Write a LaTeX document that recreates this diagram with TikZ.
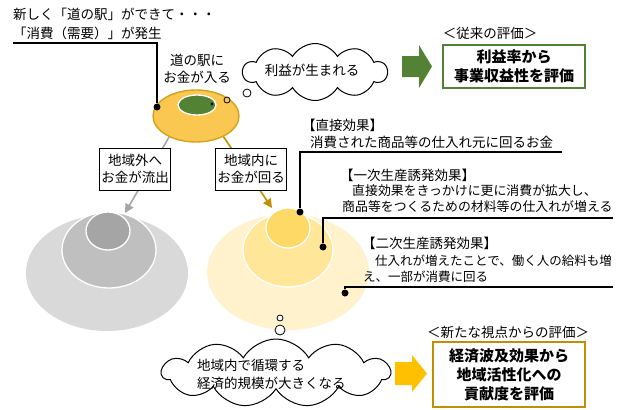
\documentclass[tikz,border=0pt]{standalone}
\usepackage{fontspec}
\setmainfont{Noto Sans CJK JP}
\usetikzlibrary{shapes.symbols,shapes.geometric,arrows.meta}
\definecolor{gA}{HTML}{D9D9D9}
\definecolor{gB}{HTML}{BFBFBF}
\definecolor{gC}{HTML}{A5A5A5}
\definecolor{yA}{HTML}{FFF2CC}
\definecolor{yB}{HTML}{FFE699}
\definecolor{yC}{HTML}{FFD966}
\definecolor{stfill}{HTML}{FAC850}
\definecolor{stline}{HTML}{D4A21A}
\definecolor{dgreen}{HTML}{548235}
\definecolor{goldarrow}{HTML}{FFC000}
\definecolor{goldline}{HTML}{BF9000}
\definecolor{grayline}{HTML}{A6A6A6}
\begin{document}
\begin{tikzpicture}[x=1pt,y=-1pt,
  txt/.style={inner sep=0pt, font=\fontsize{13.5}{17}\selectfont},
  smalltxt/.style={inner sep=0pt, font=\fontsize{12.9}{17}\selectfont},
  tinytxt/.style={inner sep=0pt, font=\fontsize{12.5}{17}\selectfont},
  lbl/.style={draw, line width=1pt, fill=white, inner sep=2pt, align=center, font=\fontsize{13.5}{17}\selectfont, minimum width=70pt, minimum height=42pt},
  blackdot/.style={circle, fill=black, inner sep=0pt, minimum size=7pt},
  callout/.style={line width=1.2pt},
  bubble/.style={circle, draw=black, line width=0.8pt, inner sep=0pt},
  thought/.style={cloud, draw, fill=white, line width=1pt, cloud puffs=10, cloud puff arc=120, inner sep=0pt},
  evalbox/.style={draw, line width=1.2pt, fill=white, align=center, font=\bfseries\fontsize{15}{19}\selectfont},
  flowline/.style={line width=1.6pt, -{Triangle[length=9pt,width=9pt]}}]
\useasboundingbox (0,0) rectangle (622,410);

% gray concentric group
\fill[gA] (107,273) ellipse [x radius=81, y radius=58];
\draw[white, line width=1.3pt, fill=gB] (109,250) ellipse [x radius=47, y radius=38];
\draw[white, line width=1.3pt, fill=gC] (108,231) ellipse [x radius=22, y radius=19];

% gold concentric group
\fill[yA] (288,272) ellipse [x radius=81, y radius=58];
\draw[white, line width=1.3pt, fill=yB] (288,250) ellipse [x radius=45, y radius=37];
\draw[white, line width=1.3pt, fill=yC] (288,228) ellipse [x radius=22, y radius=20];

% station ellipse
\node[ellipse, draw=stline, line width=1.4pt, fill=stfill, minimum width=86pt, minimum height=52pt, inner sep=0pt] (station) at (196,116) {};
\draw[white, line width=1.3pt, fill=dgreen] (197,105) ellipse [x radius=19, y radius=10];
\fill[black] (212,104) circle [radius=1.6];
\node[bubble, fill=stfill, minimum size=6pt] (b1) at (227,100) {};
\node[bubble, fill=white, minimum size=8pt] (b2) at (247,93) {};

% flows
\coordinate (grayend) at (125,213);
\coordinate (goldend) at (272,208);
\draw[flowline, grayline] (station.218) -- (grayend);
\draw[flowline, goldline] (station.323) -- (goldend);
\node[lbl] (outlbl) at (135,169) {地域外へ\\お金が流出};
\node[lbl] (inlbl) at (251,169) {地域内に\\お金が回る};

% top-left text and callout
\node[txt, anchor=west] (t1) at (13,14) {新しく「道の駅」ができて・・・};
\node[txt, anchor=west] (t2) at (13,33) {「消費（需要）」が発生};
\coordinate (c0a) at (13,43);
\coordinate (c0b) at (157,43);
\node[blackdot] (d0) at (157,107) {};
\draw[callout] (c0a) -- (c0b) -- (d0);

\node[txt, align=center] (stlbl) at (197,69) {道の駅に\\お金が入る};

% cloud 1
\node[thought, minimum width=144pt, minimum height=57pt] (cloud1) at (315,72) {};
\node[txt] (cloud1t) at (312,70) {利益が生まれる};

% green arrow and box
\fill[dgreen] (402,56) -- (419,56) -- (419,45) -- (432,66.5) -- (419,88) -- (419,77) -- (402,77) -- cycle;
\node[txt] (oldhead) at (490,33) {＜従来の評価＞};
\node[evalbox, draw=dgreen, minimum width=142pt, minimum height=43pt] (oldbox) at (514,66.5) {利益率から\\事業収益性を評価};

% effects
\node[txt, anchor=west] (e1a) at (302,125) {【直接効果】};
\node[txt, anchor=west] (e1b) at (310,142) {消費された商品等の仕入れ元に回るお金};
\node[blackdot] (d1) at (300,212) {};
\coordinate (c1a) at (300,152);
\coordinate (c1b) at (562,152);
\draw[callout] (d1) -- (c1a) -- (c1b);

\node[txt, anchor=west] (e2a) at (340,175) {【一次生産誘発効果】};
\node[smalltxt, anchor=west] (e2b) at (352,191) {直接効果をきっかけに更に消費が拡大し、};
\node[smalltxt, anchor=west] (e2c) at (342,207) {商品等をつくるための材料等の仕入れが増える};
\node[blackdot] (d2) at (323,247) {};
\coordinate (c2a) at (323,218);
\coordinate (c2b) at (613,218);
\draw[callout] (d2) -- (c2a) -- (c2b);

\node[txt, anchor=west] (e3a) at (362,243) {【二次生産誘発効果】};
\node[tinytxt, anchor=west] (e3b) at (375,261) {仕入れが増えたことで、働く人の給料も増};
\node[tinytxt, anchor=west] (e3c) at (363,277) {え、一部が消費に回る};
\node[blackdot] (d3) at (345,293) {};
\coordinate (c3a) at (345,287);
\coordinate (c3b) at (613,287);
\draw[callout] (d3) -- (c3a) -- (c3b);

% lower bubbles and cloud
\node[bubble, fill=white, minimum size=6pt] (b3) at (280,318) {};
\node[bubble, fill=white, minimum size=10pt] (b4) at (280,330) {};
\node[thought, cloud puffs=11, minimum width=228pt, minimum height=68pt] (cloud2) at (276,373) {};
\node[txt, anchor=west] (cl2a) at (197,365) {地域内で循環する};
\node[txt, anchor=west] (cl2b) at (197,383) {経済的規模が大きくなる};

% gold arrow and box
\fill[goldarrow] (395,362) -- (412,362) -- (412,355) -- (427,373.5) -- (412,392) -- (412,385) -- (395,385) -- cycle;
\node[txt] (newhead) at (508,332) {＜新たな視点からの評価＞};
\node[evalbox, draw=goldline, minimum width=152pt, minimum height=65pt] (newbox) at (509,374.5) {経済波及効果から\\地域活性化への\\貢献度を評価};
\end{tikzpicture}
\end{document}
